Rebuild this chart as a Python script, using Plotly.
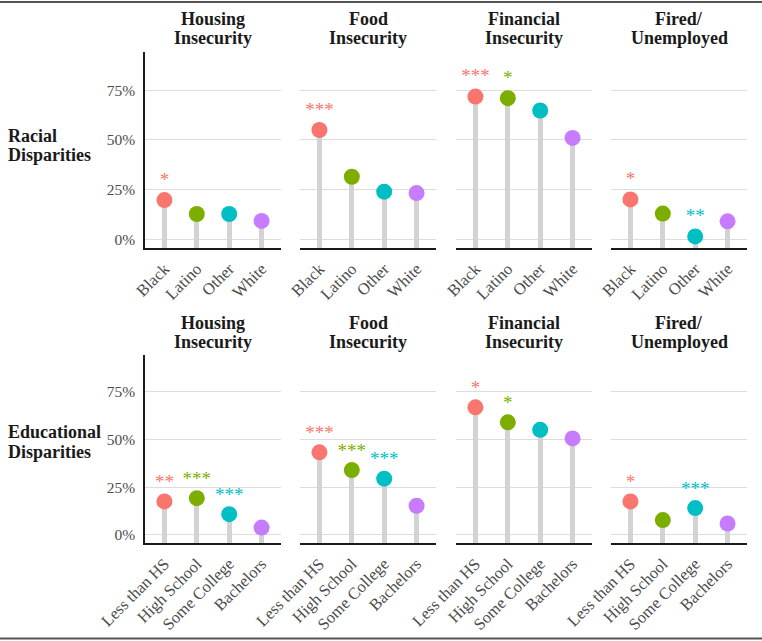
import plotly.graph_objects as go

# groups and outcomes
race_groups = ["Black", "Latino", "Other", "White"]
edu_groups = ["Less than HS", "High School", "Some College", "Bachelors"]
outcome_titles = [("Housing", "Insecurity"), ("Food", "Insecurity"),
                  ("Financial", "Insecurity"), ("Fired/", "Unemployed")]
row_titles = [("Racial", "Disparities"), ("Educational", "Disparities")]

# share of respondents (%) - racial disparities
race_housing = [19.8, 12.8, 12.8, 9.3]
race_food = [55.0, 31.5, 24.0, 23.3]
race_financial = [71.8, 71.0, 64.8, 51.0]
race_fired = [20.1, 13.0, 1.5, 9.1]
race_housing_sig = ["*", "", "", ""]
race_food_sig = ["***", "", "", ""]
race_financial_sig = ["***", "*", "", ""]
race_fired_sig = ["*", "", "**", ""]

# share of respondents (%) - educational disparities
edu_housing = [17.5, 19.2, 10.8, 3.8]
edu_food = [43.2, 33.9, 29.4, 15.2]
edu_financial = [66.8, 58.9, 55.0, 50.5]
edu_fired = [17.5, 7.7, 14.0, 5.9]
edu_housing_sig = ["**", "***", "***", ""]
edu_food_sig = ["***", "***", "***", ""]
edu_financial_sig = ["*", "*", "", ""]
edu_fired_sig = ["*", "", "***", ""]

y_ticks = [0, 25, 50, 75]
y_tick_labels = ["0%", "25%", "50%", "75%"]

COLORS = ["#F8766D", "#7CAE00", "#00BFC4", "#C77CFF"]
FONT = '"Liberation Serif", "Times New Roman", serif'
W, H = 762, 641
Y_MIN, Y_MAX = -4.3, 94.2
STAR_OFFSET = 9.5

rows = [
    (race_groups, [race_housing, race_food, race_financial, race_fired],
     [race_housing_sig, race_food_sig, race_financial_sig, race_fired_sig]),
    (edu_groups, [edu_housing, edu_food, edu_financial, edu_fired],
     [edu_housing_sig, edu_food_sig, edu_financial_sig, edu_fired_sig]),
]

# panel placement in pixels
col_px = [(145, 281), (300, 436), (456, 592), (611, 747)]
row_px = [(52, 248), (355, 543)]
title_px = [(19, 38), (323, 342)]
row_label_px = [(136, 155), (432, 452)]

fig = go.Figure()
layout = {}
annotations = []

for r, (groups, series, sigs) in enumerate(rows):
    for c in range(4):
        k = r * 4 + c + 1
        xa = "x" if k == 1 else f"x{k}"
        ya = "y" if k == 1 else f"y{k}"
        vals = series[c]

        # stems
        fig.add_trace(go.Bar(
            x=groups, y=[v - Y_MIN for v in vals], base=Y_MIN, width=0.16,
            marker=dict(color="#D3D3D3", line=dict(width=0)),
            xaxis=xa, yaxis=ya, showlegend=False, hoverinfo="skip"))
        # dots
        fig.add_trace(go.Scatter(
            x=groups, y=vals, mode="markers",
            marker=dict(size=16, color=COLORS, line=dict(width=0)),
            xaxis=xa, yaxis=ya, showlegend=False))
        # significance stars
        fig.add_trace(go.Scatter(
            x=groups, y=[v + STAR_OFFSET for v in vals], mode="text",
            text=sigs[c], textposition="middle center",
            textfont=dict(family=FONT, size=19, color=COLORS),
            xaxis=xa, yaxis=ya, showlegend=False, hoverinfo="skip"))

        x0, x1 = col_px[c]
        y0, y1 = row_px[r]
        layout["xaxis" if k == 1 else f"xaxis{k}"] = dict(
            domain=[x0 / W, x1 / W], anchor=ya, type="category",
            categoryorder="array", categoryarray=groups,
            range=[-0.6, 3.6], showgrid=False, zeroline=False,
            showline=True, linecolor="#1a1a1a", linewidth=1.6,
            ticks="outside", ticklen=3, tickcolor="rgba(0,0,0,0)",
            tickangle=-45, automargin=False,
            tickfont=dict(family=FONT, size=16.5, color="#4D4D4D"))
        layout["yaxis" if k == 1 else f"yaxis{k}"] = dict(
            domain=[1 - y1 / H, 1 - y0 / H], anchor=xa,
            range=[Y_MIN, Y_MAX], tickmode="array", tickvals=y_ticks,
            ticktext=y_tick_labels, automargin=False,
            showgrid=True, gridcolor="#DCDCDC", gridwidth=1.2,
            zeroline=False, showline=(c == 0), linecolor="#1a1a1a",
            linewidth=1.6, showticklabels=(c == 0),
            ticks="outside", ticklen=5, tickcolor="rgba(0,0,0,0)",
            tickfont=dict(family=FONT, size=15.5, color="#4D4D4D"))

        # panel titles
        for line, ypx in zip(outcome_titles[c], title_px[r]):
            annotations.append(dict(
                text=f"<b>{line}</b>", x=(x0 + x1) / 2 / W, y=1 - ypx / H,
                xref="paper", yref="paper", xanchor="center", yanchor="middle",
                showarrow=False,
                font=dict(family=FONT, size=18, color="#1a1a1a")))

    for line, ypx in zip(row_titles[r], row_label_px[r]):
        annotations.append(dict(
            text=f"<b>{line}</b>", x=6 / W, y=1 - ypx / H,
            xref="paper", yref="paper", xanchor="left", yanchor="middle",
            showarrow=False, font=dict(family=FONT, size=18, color="#1a1a1a")))

fig.update_layout(
    **layout,
    annotations=annotations,
    width=W, height=H,
    margin=dict(l=0, r=0, t=0, b=0, autoexpand=False),
    paper_bgcolor="white", plot_bgcolor="white",
    showlegend=False, bargap=0,
    font=dict(family=FONT),
    shapes=[
        dict(type="line", xref="paper", yref="paper", x0=0, x1=1,
             y0=1 - 2 / H, y1=1 - 2 / H, line=dict(color="#555555", width=2)),
        dict(type="line", xref="paper", yref="paper", x0=0, x1=1,
             y0=1 - 638.5 / H, y1=1 - 638.5 / H,
             line=dict(color="#555555", width=2)),
    ],
)

# drop the browser's default page margin so the figure fills the window
fig.write_html("out.html", config={"displayModeBar": False},
               post_script="document.body.style.margin = '0px';")
